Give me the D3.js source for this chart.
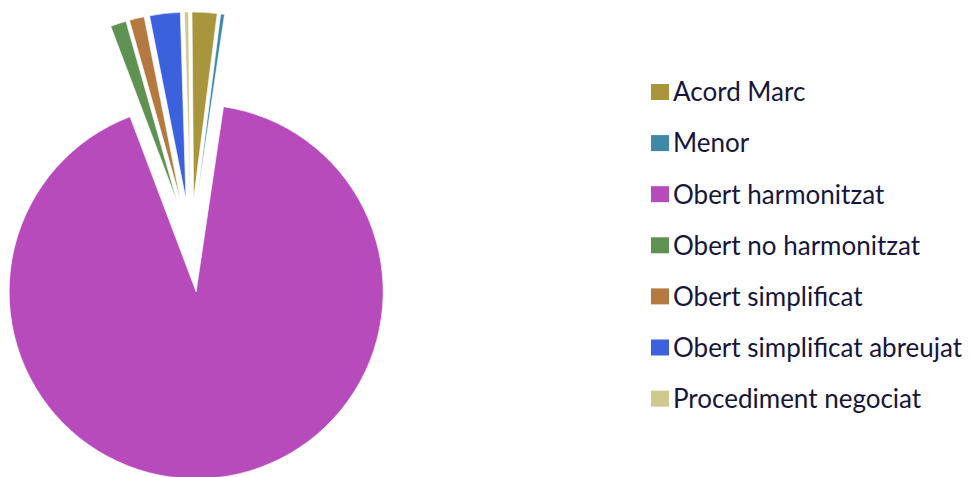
<!DOCTYPE html>
<html>
<head>
<meta charset="utf-8">
<script src="https://cdn.jsdelivr.net/npm/d3@7"></script>
<style>
  body { margin: 0; background: #fff; }
  svg { display: block; }
</style>
</head>
<body>
<div id="chart"></div>
<script>
var categories = ['Acord Marc', 'Menor', 'Obert harmonitzat', 'Obert no harmonitzat',
    'Obert simplificat', 'Obert simplificat abreujat', 'Procediment negociat'];
var values = [2.15, 0.33, 92.0, 1.36, 1.28, 2.64, 0.34];
var colors = ['#a8953c', '#3f88a8', '#b74bbb', '#5f9152', '#b37940', '#3b62dc', '#cfc88f'];
// explosion distance of each slice, px
var explode = [45, 45, 48, 45, 45, 45, 45];

var width = 971, height = 477;
var cx = 191, cy = 244, radius = 187;

var svg = d3.select('#chart').append('svg')
    .attr('width', width)
    .attr('height', height);

var pie = d3.pie()
    .sort(null)
    .startAngle(-0.5 * Math.PI / 180)
    .endAngle(2 * Math.PI - 0.5 * Math.PI / 180);

var arc = d3.arc().innerRadius(0).outerRadius(radius);

var slices = pie(values);

svg.append('g')
    .attr('transform', 'translate(' + cx + ',' + cy + ')')
    .selectAll('path')
    .data(slices)
    .enter()
    .append('path')
        .attr('d', arc)
        .attr('fill', function(d, i){ return colors[i]; })
        .attr('stroke', '#fff')
        .attr('stroke-width', 0.6)
        .attr('transform', function(d, i){
            var a = (d.startAngle + d.endAngle) / 2;
            return 'translate(' + (Math.sin(a) * explode[i]) + ',' + (-Math.cos(a) * explode[i]) + ')';
        });

// legend
var legend = svg.append('g')
    .attr('transform', 'translate(651,0)');

var rows = legend.selectAll('g')
    .data(categories)
    .enter()
    .append('g')
        .attr('transform', function(d, i){ return 'translate(0,' + (92 + i * 51.1) + ')'; });

rows.append('rect')
    .attr('x', 0)
    .attr('y', -8)
    .attr('width', 18)
    .attr('height', 16)
    .attr('fill', function(d, i){ return colors[i]; });

rows.append('text')
    .attr('x', 22)
    .attr('y', 0)
    .attr('dy', '0.36em')
    .attr('font-family', 'Lato, "Open Sans", sans-serif')
    .attr('font-size', '26px')
    .attr('fill', '#17163a')
    .text(function(d){ return d; });
</script>
</body>
</html>
